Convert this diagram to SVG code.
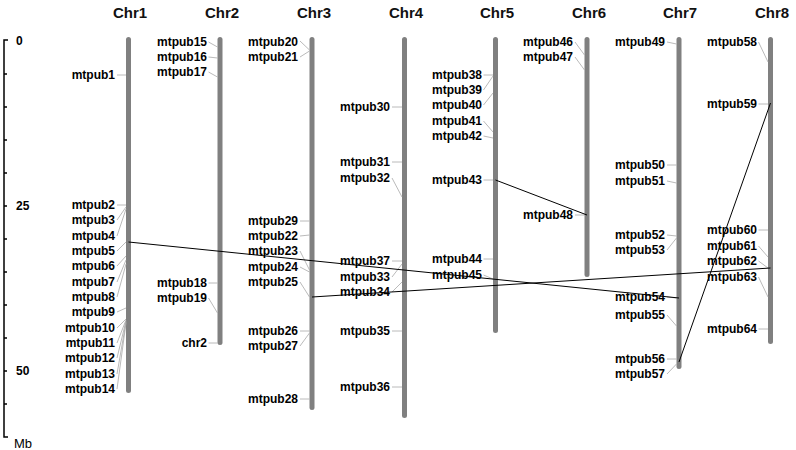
<svg xmlns="http://www.w3.org/2000/svg" width="796" height="450" viewBox="0 0 796 450">
<style>
text{font-family:"Liberation Sans",Arial,sans-serif;fill:#000}
.t{font-size:15px;font-weight:bold;text-anchor:middle;fill:#111}
.l{font-size:12px;font-weight:bold;text-anchor:end}
.a{font-size:12px;font-weight:bold}
.bar{fill:#808080}
.g{stroke:#a8a8a8;stroke-width:0.8;fill:none}
.c{stroke:#000;stroke-width:1;fill:none}
.ax{stroke:#000;stroke-width:1.5;fill:none}
</style>
<rect width="796" height="450" fill="#fff"/>
<g id="axis">
<path class="ax" d="M8,40H4V437H8"/>
<path class="ax" d="M4,74H7M4,107H7M4,140H7M4,173H7M4,206H7M4,239H7M4,272H7M4,305H7M4,338H7M4,371H7M4,404H7"/>
<text class="a" x="16" y="45">0</text>
<text class="a" x="16" y="210">25</text>
<text class="a" x="16" y="375">50</text>
<text x="14" y="448" style="font-size:13px">Mb</text>
</g>
<g id="chr1">
<rect class="bar" x="126" y="37" width="5" height="356" rx="2.5"/>
<text class="t" x="130" y="18">Chr1</text>
<path class="g" d="M117,75H126M117,205H126M117,220L126,207M117,236L126,209M117,251L126,242M117,266L126,256M117,282L126,260M117,297L126,264M117,312L126,308M117,328L126,319M117,343L126,320M117,358L126,321M117,374L126,322M117,389L126,323"/>
<text class="l" x="115" y="79">mtpub1</text>
<text class="l" x="115" y="209">mtpub2</text>
<text class="l" x="115" y="224.3">mtpub3</text>
<text class="l" x="115" y="239.7">mtpub4</text>
<text class="l" x="115" y="255">mtpub5</text>
<text class="l" x="115" y="270.3">mtpub6</text>
<text class="l" x="115" y="285.7">mtpub7</text>
<text class="l" x="115" y="301">mtpub8</text>
<text class="l" x="115" y="316.3">mtpub9</text>
<text class="l" x="115" y="331.7">mtpub10</text>
<text class="l" x="115" y="347">mtpub11</text>
<text class="l" x="115" y="362.3">mtpub12</text>
<text class="l" x="115" y="377.7">mtpub13</text>
<text class="l" x="115" y="393">mtpub14</text>
</g>
<g id="chr2">
<rect class="bar" x="217.5" y="37" width="5" height="308" rx="2.5"/>
<text class="t" x="222" y="18">Chr2</text>
<path class="g" d="M208.5,42L217.5,47M208.5,57L217.5,58M208.5,72L217.5,77M208.5,283H217.5M208.5,298L217.5,313M208.5,343H217.5"/>
<text class="l" x="207" y="46">mtpub15</text>
<text class="l" x="207" y="61">mtpub16</text>
<text class="l" x="207" y="76">mtpub17</text>
<text class="l" x="207" y="287">mtpub18</text>
<text class="l" x="207" y="302">mtpub19</text>
<text class="l" x="207" y="347">chr2</text>
</g>
<g id="chr3">
<rect class="bar" x="309.5" y="37" width="5" height="373" rx="2.5"/>
<text class="t" x="314" y="18">Chr3</text>
<path class="g" d="M300,41L309.5,50M300,57L309.5,51M300,221H309.5M300,236L309.5,235M300,251L309.5,270M300,267L309.5,272M300,282L309.5,297M300,331H309.5M300,346L309.5,333M300,399H309.5"/>
<text class="l" x="298" y="46">mtpub20</text>
<text class="l" x="298" y="61">mtpub21</text>
<text class="l" x="298" y="225">mtpub29</text>
<text class="l" x="298" y="240">mtpub22</text>
<text class="l" x="298" y="255">mtpub23</text>
<text class="l" x="298" y="271">mtpub24</text>
<text class="l" x="298" y="286">mtpub25</text>
<text class="l" x="298" y="335">mtpub26</text>
<text class="l" x="298" y="350">mtpub27</text>
<text class="l" x="298" y="403">mtpub28</text>
</g>
<g id="chr4">
<rect class="bar" x="402" y="37" width="5" height="381" rx="2.5"/>
<text class="t" x="406" y="18">Chr4</text>
<path class="g" d="M392,107H402M392,162H402M392,178L402,197M392,261H402M392,277L402,264M392,292L402,282M392,331H402M392,387H402"/>
<text class="l" x="390" y="111">mtpub30</text>
<text class="l" x="390" y="166">mtpub31</text>
<text class="l" x="390" y="182">mtpub32</text>
<text class="l" x="390" y="265">mtpub37</text>
<text class="l" x="390" y="281">mtpub33</text>
<text class="l" x="390" y="296">mtpub34</text>
<text class="l" x="390" y="335">mtpub35</text>
<text class="l" x="390" y="391">mtpub36</text>
</g>
<g id="chr5">
<rect class="bar" x="493" y="37" width="5" height="296" rx="2.5"/>
<text class="t" x="497" y="18">Chr5</text>
<path class="g" d="M483.5,75H493M483.5,90L493,76M483.5,105L493,93M483.5,121L493,132M483.5,136L493,138M483.5,180H493M483.5,259H493M483.5,275L493,279"/>
<text class="l" x="482" y="79">mtpub38</text>
<text class="l" x="482" y="94">mtpub39</text>
<text class="l" x="482" y="109">mtpub40</text>
<text class="l" x="482" y="125">mtpub41</text>
<text class="l" x="482" y="140">mtpub42</text>
<text class="l" x="482" y="184">mtpub43</text>
<text class="l" x="482" y="263">mtpub44</text>
<text class="l" x="482" y="279">mtpub45</text>
</g>
<g id="chr6">
<rect class="bar" x="584.5" y="37" width="5" height="240" rx="2.5"/>
<text class="t" x="589" y="18">Chr6</text>
<path class="g" d="M575,42L584.5,55M575,57L584.5,70M575,215H584.5"/>
<text class="l" x="573" y="46">mtpub46</text>
<text class="l" x="573" y="61">mtpub47</text>
<text class="l" x="573" y="219">mtpub48</text>
</g>
<g id="chr7">
<rect class="bar" x="676.5" y="37" width="5" height="332" rx="2.5"/>
<text class="t" x="680" y="18">Chr7</text>
<path class="g" d="M667,42L676.5,44M667,165H676.5M667,181L676.5,183M667,235L676.5,236M667,250L676.5,238M667,297L676.5,298M667,315L676.5,326M667,359H676.5M667,374L676.5,364"/>
<text class="l" x="665" y="46">mtpub49</text>
<text class="l" x="665" y="169">mtpub50</text>
<text class="l" x="665" y="185">mtpub51</text>
<text class="l" x="665" y="239">mtpub52</text>
<text class="l" x="665" y="254">mtpub53</text>
<text class="l" x="665" y="301">mtpub54</text>
<text class="l" x="665" y="319">mtpub55</text>
<text class="l" x="665" y="363">mtpub56</text>
<text class="l" x="665" y="378">mtpub57</text>
</g>
<g id="chr8">
<rect class="bar" x="768" y="37" width="5" height="307" rx="2.5"/>
<text class="t" x="772" y="18">Chr8</text>
<path class="g" d="M758.5,42L768,62M758.5,104H768M758.5,230H768M758.5,246L768,257M758.5,261L768,268M758.5,277L768,297M758.5,329H768"/>
<text class="l" x="757" y="46">mtpub58</text>
<text class="l" x="757" y="108">mtpub59</text>
<text class="l" x="757" y="234">mtpub60</text>
<text class="l" x="757" y="250">mtpub61</text>
<text class="l" x="757" y="265">mtpub62</text>
<text class="l" x="757" y="281">mtpub63</text>
<text class="l" x="757" y="333">mtpub64</text>
</g>
<g id="connectors">
<path class="c" d="M128.5,242L679,298"/>
<path class="c" d="M312,297L770.5,268"/>
<path class="c" d="M495.5,180L587,215"/>
<path class="c" d="M679,362L770.5,103"/>
</g>
</svg>
